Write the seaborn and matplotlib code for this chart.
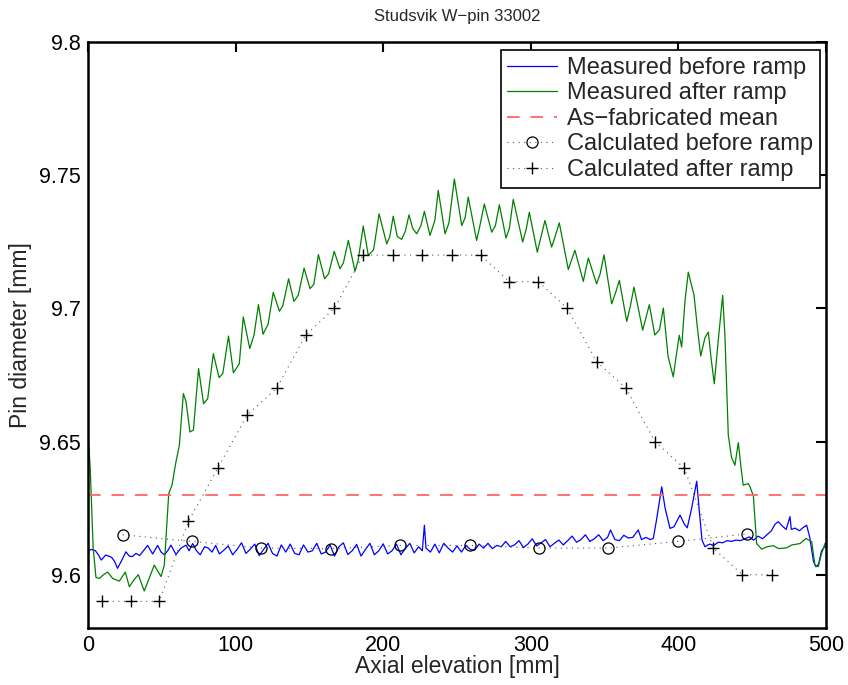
import matplotlib
matplotlib.use("Agg")
import matplotlib.pyplot as plt
from matplotlib.ticker import FuncFormatter
import seaborn as sns
import pandas as pd

# Measured after ramp (green)
after_x = [0, 1.5, 3.5, 5.4, 7.7, 10.5, 13.3, 16.7, 21.2, 25.3, 28, 31, 34.1, 38.1, 41, 44.9,
           49.5, 51.7, 53.5, 54.7, 56.9, 59.6, 61.9, 63.5, 64.6, 66.4, 69.1, 71.4, 73.5, 74.9,
           78.3, 81.1, 84.9, 88.8, 91.3, 95.2, 98.5, 102.5, 105.2, 109.6, 112.5, 115.5, 118.6,
           122, 125.5, 129.7, 132, 135.9, 139.5, 142.5, 146.4, 150.4, 153, 156.1, 160.3, 163,
           166.8, 170.7, 173, 176.4, 180.9, 183, 186.5, 189.9, 193.5, 197.2, 202.4, 204.5,
           206.8, 209.5, 212.5, 215, 217.5, 220, 222.7, 225.5, 227.9, 231.7, 235, 237.3, 241.9,
           244.5, 248.2, 253.2, 255.5, 257.6, 263.3, 265.5, 268.5, 273.5, 276, 278.7, 283.2,
           285.5, 288.1, 294.5, 297, 299, 304.4, 307, 309.6, 314.1, 316.5, 319.3, 325.4, 327.5,
           329.9, 335.6, 337, 339, 344.6, 347, 349.6, 354.8, 357.5, 360, 365, 367.5, 369.9,
           375.8, 378.2, 380.3, 384, 387.2, 389.8, 393, 396.5, 399, 400.6, 402.2, 404.5, 406.7,
           410.6, 413, 415.1, 418, 420.3, 422, 424.3, 427, 430, 431.5, 433.8, 436, 438.3, 440.6,
           442.5, 443.9, 446, 447.4, 448.5, 450.8, 452, 453, 456.4, 460, 464.3, 468, 473.3, 477,
           482.4, 486.4, 490.3, 492.5, 494.8, 497, 499.3, 500]
after_y = [9.653, 9.640, 9.610, 9.599, 9.5986, 9.600, 9.601, 9.5986, 9.5976, 9.601, 9.5955,
           9.598, 9.600, 9.5939, 9.598, 9.6036, 9.5993, 9.6036, 9.620, 9.6305, 9.6336, 9.6424,
           9.6486, 9.660, 9.668, 9.665, 9.6536, 9.6543, 9.668, 9.6774, 9.6642, 9.6661, 9.683,
           9.6740, 9.6755, 9.6896, 9.6758, 9.6792, 9.6968, 9.6849, 9.690, 9.7014, 9.6903, 9.694,
           9.706, 9.6989, 9.701, 9.7111, 9.7026, 9.705, 9.7151, 9.7074, 9.709, 9.7202, 9.7111,
           9.713, 9.7214, 9.7149, 9.717, 9.7255, 9.7139, 9.718, 9.7309, 9.7199, 9.722, 9.7355,
           9.7242, 9.727, 9.7346, 9.727, 9.7259, 9.729, 9.7351, 9.730, 9.728, 9.731, 9.7364,
           9.7274, 9.733, 9.7443, 9.728, 9.732, 9.7486, 9.7311, 9.734, 9.7418, 9.7255, 9.731,
           9.7392, 9.7286, 9.731, 9.7389, 9.7264, 9.730, 9.7409, 9.7249, 9.730, 9.7361, 9.7211,
           9.727, 9.733, 9.723, 9.727, 9.7321, 9.7146, 9.718, 9.7218, 9.7101, 9.714, 9.7189,
           9.7092, 9.713, 9.7201, 9.7017, 9.706, 9.7105, 9.6951, 9.701, 9.708, 9.6918, 9.697,
           9.7014, 9.690, 9.692, 9.7001, 9.682, 9.6743, 9.684, 9.6899, 9.6855, 9.703, 9.7136,
           9.7049, 9.692, 9.6821, 9.689, 9.6911, 9.682, 9.6717, 9.688, 9.7049, 9.690, 9.6524,
           9.644, 9.6411, 9.6496, 9.640, 9.6336, 9.634, 9.6342, 9.633, 9.6296, 9.620, 9.6117,
           9.6096, 9.6105, 9.6109, 9.6098, 9.6101, 9.6112, 9.6117, 9.6136, 9.6124, 9.6036,
           9.603, 9.608, 9.6117, 9.612]

# Measured before ramp (blue)
before_x = [0, 2.5, 5, 7, 9, 12, 14, 16, 18, 20, 22.4, 25.7, 28, 30, 32.5, 35, 37, 40.4, 43.8,
            47.2, 49.5, 51.7, 54, 56.2, 59.6, 63, 66.4, 68.5, 70.9, 73.5, 76, 79, 81.5, 84,
            86.5, 89, 92, 95, 98, 101, 104, 107, 110, 113, 116, 119, 122, 125, 128, 131, 134,
            137, 140, 143, 146, 149, 152, 155, 158, 161, 164, 167, 170, 173, 176, 179, 182, 185,
            188, 191, 194, 197, 200, 203, 206, 209, 212, 215, 218, 221, 224, 226.5, 227.9, 229,
            232, 235, 238, 241, 244, 247, 250, 253, 256, 259, 262, 265, 268, 271, 274, 277, 280,
            283, 286, 289, 292, 295, 298, 301, 304, 307, 310, 313, 316, 319, 322, 325, 328, 331,
            334, 337, 340, 343, 346, 349, 352, 354, 357, 360, 363, 366, 369, 372.8, 375, 378,
            381, 383, 385, 388.7, 391, 394.3, 397, 401.1, 404, 406, 409, 412.4, 414, 416, 418,
            421, 424, 427, 430, 433, 436, 439, 442, 445, 448, 451, 454, 457, 460, 463, 465.5,
            467.7, 470, 473, 475.6, 476.5, 479, 482, 484, 486.9, 489, 491.5, 493.2, 495, 497, 500]
before_y = [9.609, 9.6095, 9.609, 9.6075, 9.6055, 9.6074, 9.607, 9.6065, 9.605, 9.6024, 9.6049,
            9.6086, 9.607, 9.6068, 9.608, 9.6072, 9.6086, 9.611, 9.6078, 9.611, 9.6085, 9.6075,
            9.609, 9.6111, 9.6076, 9.610, 9.6111, 9.609, 9.6117, 9.609, 9.6075, 9.6105, 9.610,
            9.6085, 9.611, 9.6078, 9.6092, 9.6108, 9.6075, 9.6095, 9.612, 9.608, 9.6096, 9.6115,
            9.6072, 9.6095, 9.6118, 9.608, 9.607, 9.6112, 9.6085, 9.6115, 9.608, 9.6075, 9.6112,
            9.6085, 9.609, 9.6118, 9.6078, 9.6085, 9.6112, 9.607, 9.6105, 9.612, 9.6076, 9.609,
            9.6114, 9.607, 9.6095, 9.6118, 9.6075, 9.609, 9.6116, 9.6078, 9.609, 9.6115, 9.6075,
            9.6098, 9.6118, 9.6082, 9.6105, 9.609, 9.6186, 9.610, 9.6085, 9.6115, 9.6082, 9.6118,
            9.610, 9.6085, 9.6108, 9.6085, 9.611, 9.6095, 9.6092, 9.6115, 9.610, 9.6118, 9.6098,
            9.611, 9.6105, 9.6125, 9.6105, 9.6112, 9.6128, 9.6102, 9.6115, 9.6135, 9.6108, 9.612,
            9.6132, 9.6105, 9.6118, 9.613, 9.6112, 9.6128, 9.6145, 9.6122, 9.6132, 9.615, 9.6125,
            9.6135, 9.615, 9.6128, 9.614, 9.6168, 9.6132, 9.6128, 9.6148, 9.6138, 9.614, 9.6168,
            9.6132, 9.614, 9.6132, 9.6136, 9.620, 9.633, 9.625, 9.6174, 9.618, 9.6224, 9.619,
            9.6176, 9.625, 9.6351, 9.625, 9.613, 9.6105, 9.6115, 9.611, 9.6122, 9.612, 9.6128,
            9.6125, 9.613, 9.6128, 9.6135, 9.6142, 9.613, 9.6145, 9.6135, 9.615, 9.6165, 9.619,
            9.6199, 9.6185, 9.617, 9.6218, 9.617, 9.6175, 9.6165, 9.6175, 9.6186, 9.614, 9.605,
            9.603, 9.604, 9.609, 9.6111]

# As-fabricated mean
mean_x = [0, 500]
mean_y = [9.63, 9.63]

# Calculated before ramp (circles)
calc_before_x = [23.5, 70.5, 117.5, 164.5, 211.5, 258.5, 305.5, 352.5, 399.5, 446.5]
calc_before_y = [9.615, 9.6125, 9.610, 9.6098, 9.611, 9.611, 9.610, 9.610, 9.6125, 9.6153]

# Calculated after ramp (plus)
calc_after_x = [9.3, 28.9, 48.3, 68, 87.9, 107.9, 127.8, 147.5, 166.9, 186.5, 206.4, 226.3,
                246.4, 266, 285.5, 305.1, 324.8, 344.6, 364.5, 384.1, 404, 423.7, 443.3, 463.2]
calc_after_y = [9.59, 9.59, 9.59, 9.62, 9.64, 9.66, 9.67, 9.69, 9.70, 9.72, 9.72, 9.72, 9.72,
                9.72, 9.71, 9.71, 9.70, 9.68, 9.67, 9.65, 9.64, 9.61, 9.60, 9.60]

sns.set_style("white")
plt.rcParams["font.family"] = ["Liberation Sans", "DejaVu Sans"]

fig = plt.figure(figsize=(8.48, 6.85), dpi=100)
ax = fig.add_axes([88 / 848, 1 - 628 / 685, 738 / 848, 586 / 685])

sns.lineplot(x=before_x, y=before_y, ax=ax, color=(0, 0, 1), lw=0.9, sort=False,
             estimator=None, label="Measured before ramp")
sns.lineplot(x=after_x, y=after_y, ax=ax, color=(0, 0.5, 0), lw=0.9, sort=False,
             estimator=None, label="Measured after ramp")
sns.lineplot(x=mean_x, y=mean_y, ax=ax, color=(1, 0.4, 0.4), lw=1.3, sort=False,
             estimator=None, label="As\u2212fabricated mean", dashes=False)
ax.lines[-1].set_dashes([7, 6])
dot = (0, (1, 4))
sns.lineplot(x=calc_before_x, y=calc_before_y, ax=ax, color="0.35", lw=0.8, sort=False,
             estimator=None, label="Calculated before ramp", marker="o", markersize=8,
             markerfacecolor="none", markeredgecolor="black", markeredgewidth=0.9)
ax.lines[-1].set_linestyle(dot)
sns.lineplot(x=calc_after_x, y=calc_after_y, ax=ax, color="0.35", lw=0.8, sort=False,
             estimator=None, label="Calculated after ramp", marker="+", markersize=9,
             markeredgecolor="black", markeredgewidth=1.0)
ax.lines[-1].set_linestyle(dot)

ax.set_xlim(0, 500)
ax.set_ylim(9.58, 9.8)
ax.set_xticks([0, 100, 200, 300, 400, 500])
ax.set_yticks([9.6, 9.65, 9.7, 9.75, 9.8])
ax.yaxis.set_major_formatter(FuncFormatter(lambda v, p: f"{v:g}"))
ax.tick_params(direction="in", top=True, right=True, length=7, width=1.5,
               labelsize=15.5, colors="black", pad=5)
for s in ax.spines.values():
    s.set_linewidth(1.8)
    s.set_color("black")

ax.set_xlabel("Axial elevation [mm]", fontsize=16.5, labelpad=-1)
ax.set_ylabel("Pin diameter [mm]", fontsize=16.5, labelpad=5)
ax.set_title("Studsvik W\u2212pin 33002", fontsize=12, pad=15)

leg = ax.legend(loc="upper right", bbox_to_anchor=(0.992, 0.986), borderaxespad=0,
                fontsize=17, frameon=True, fancybox=False, framealpha=1,
                edgecolor="black", handlelength=2.1, handletextpad=0.45,
                labelspacing=0.15, borderpad=0.28)
leg.get_frame().set_linewidth(1.2)

fig.savefig("out.png", dpi=100)
